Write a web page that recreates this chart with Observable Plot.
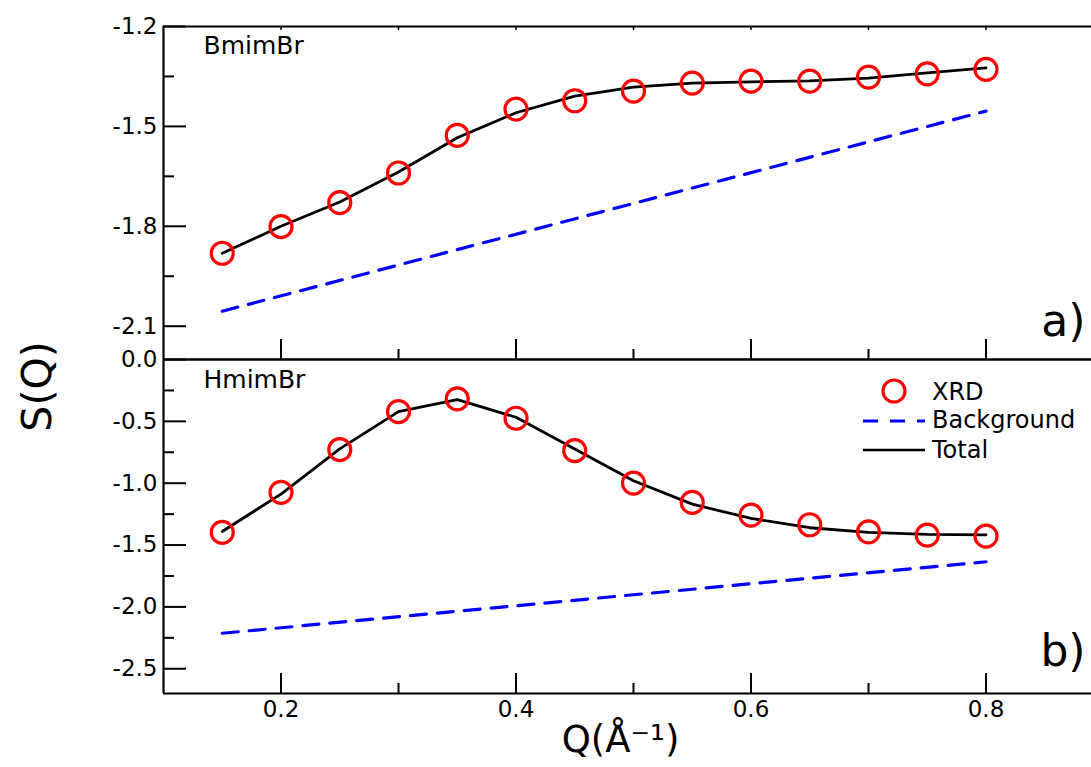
<!DOCTYPE html>
<html><head><meta charset="utf-8">
<script src="https://cdn.jsdelivr.net/npm/d3@7"></script>
<script src="https://cdn.jsdelivr.net/npm/@observablehq/plot@0.6"></script>
<style>
html,body{margin:0;padding:0;background:#fff;overflow:hidden;}
#wrap{position:relative;width:1091px;height:767px;overflow:hidden;background:#fff;}
#wrap svg{position:absolute;left:0;top:0;}
</style></head><body><div id="wrap"></div>
<script>
// ---- data ----
const Q = [0.15,0.2,0.25,0.3,0.35,0.4,0.45,0.5,0.55,0.6,0.65,0.7,0.75,0.8];
const bmimXRD = [-1.881,-1.801,-1.729,-1.640,-1.527,-1.448,-1.423,-1.394,-1.370,-1.364,-1.364,-1.352,-1.342,-1.329];
const bmimTotal = [-1.881,-1.800,-1.727,-1.637,-1.534,-1.459,-1.409,-1.382,-1.370,-1.366,-1.363,-1.355,-1.339,-1.324];
const bgQ = [0.15, 0.8];
const bmimBackground = [-2.055, -1.454];
const hmimXRD = [-1.398,-1.074,-0.729,-0.421,-0.318,-0.475,-0.737,-0.999,-1.155,-1.258,-1.336,-1.393,-1.420,-1.428];
const hmimTotal = [-1.390,-1.088,-0.723,-0.421,-0.324,-0.467,-0.723,-0.980,-1.169,-1.285,-1.360,-1.398,-1.414,-1.417];
const hmimBackground = [-2.213, -1.635];

const xDomain = [0.1, 0.9];
const topDomain = [-2.2, -1.2];
const botDomain = [-2.7, 0];
const xMajor = [0.2,0.4,0.6,0.8];
const xMajorLabels = ["0.2","0.4","0.6","0.8"];
const xMinor = [0.3,0.5,0.7];
const topMajor = [-1.2,-1.5,-1.8,-2.1];
const topMajorLabels = ["-1.2","-1.5","-1.8","-2.1"];
const topMinor = [-1.35,-1.65,-1.95];
const botMajor = [0,-0.5,-1,-1.5,-2,-2.5];
const botMajorLabels = ["0.0","-0.5","-1.0","-1.5","-2.0","-2.5"];
const botMinor = [-0.25,-0.75,-1.25,-1.75,-2.25];
const panelNames = ["BmimBr","HmimBr"];
const panelTags = ["a)","b)"];
const legendLabels = ["XRD","Background","Total"];
const yTitle = "S(Q)";
const xTitle = "Q(Å⁻¹)";

// ---- style ----
const FONT = "DejaVu Sans";
const RED = "#ff0000", BLUE = "#0000ff", BLACK = "#000000";
const DASH = "16,11";
const TICKFONT = 23;

const rows = (xs, ys) => xs.map((x, i) => ({x, y: ys[i]}));
const lab = (vals, labels) => { const m = new Map(vals.map((v, i) => [v, labels[i]])); return d => m.get(d) ?? ""; };
const blank = () => "";
const svgStyle = {background: "transparent", maxWidth: "none", overflow: "visible", fontFamily: FONT, fontSize: TICKFONT + "px", color: BLACK};

const topPlot = Plot.plot({
  width: 1103, height: 767, marginLeft: 163, marginRight: 0, marginTop: 26, marginBottom: 408,
  x: {domain: xDomain, label: null}, y: {domain: topDomain, label: null},
  style: svgStyle,
  marks: [
    Plot.axisY(topMajor, {anchor: "left", tickSize: 0, tickPadding: 6, tickFormat: lab(topMajor, topMajorLabels), fontSize: TICKFONT, label: null}),
    Plot.axisY(topMajor, {anchor: "left", tickSize: -23, tickFormat: blank, strokeWidth: 2, label: null}),
    Plot.axisY(topMinor, {anchor: "left", tickSize: -11, tickFormat: blank, strokeWidth: 2, label: null}),
    Plot.axisX(xMajor, {anchor: "bottom", tickSize: -20, tickFormat: blank, strokeWidth: 2, label: null}),
    Plot.axisX(xMinor, {anchor: "bottom", tickSize: -10, tickFormat: blank, strokeWidth: 2, label: null}),
    Plot.axisX(xMajor.concat(xMinor), {anchor: "top", tickSize: -3, tickFormat: blank, strokeWidth: 1.5, label: null}),
    Plot.ruleY([topDomain[1]], {stroke: BLACK, strokeWidth: 2.2}),
    Plot.ruleY([topDomain[0]], {stroke: BLACK, strokeWidth: 2.2}),
    Plot.ruleX([xDomain[0]], {stroke: BLACK, strokeWidth: 2.2}),
    Plot.line(rows(bgQ, bmimBackground), {x: "x", y: "y", stroke: BLUE, strokeWidth: 3.2, strokeDasharray: DASH}),
    Plot.line(rows(Q, bmimTotal), {x: "x", y: "y", stroke: BLACK, strokeWidth: 2.8}),
    Plot.dot(rows(Q, bmimXRD), {x: "x", y: "y", r: 11, stroke: RED, strokeWidth: 3.2, fill: "none"}),
    Plot.text([panelNames[0]], {text: d => d, frameAnchor: "top-left", dx: 40, dy: 27, textAnchor: "start", lineAnchor: "bottom", fontSize: 25}),
    Plot.text([panelTags[0]], {text: d => d, frameAnchor: "top-left", dx: 922, dy: 309, textAnchor: "end", lineAnchor: "bottom", fontSize: 44}),
    Plot.text([yTitle], {text: d => d, frameAnchor: "top-left", dx: -126, dy: 360, rotate: -90, textAnchor: "middle", lineAnchor: "middle", fontSize: 41})
  ]
});

const botPlot = Plot.plot({
  width: 1103, height: 767, marginLeft: 163, marginRight: 0, marginTop: 359, marginBottom: 74,
  x: {domain: xDomain, label: null}, y: {domain: botDomain, label: null},
  style: svgStyle,
  marks: [
    Plot.axisY(botMajor, {anchor: "left", tickSize: 0, tickPadding: 6, tickFormat: lab(botMajor, botMajorLabels), fontSize: TICKFONT, label: null}),
    Plot.axisY(botMajor, {anchor: "left", tickSize: -23, tickFormat: blank, strokeWidth: 2, label: null}),
    Plot.axisY(botMinor, {anchor: "left", tickSize: -11, tickFormat: blank, strokeWidth: 2, label: null}),
    Plot.axisX(xMajor, {anchor: "bottom", tickSize: 0, tickPadding: 7, tickFormat: lab(xMajor, xMajorLabels), fontSize: TICKFONT, label: null}),
    Plot.axisX(xMajor, {anchor: "bottom", tickSize: -20, tickFormat: blank, strokeWidth: 2, label: null}),
    Plot.axisX(xMinor, {anchor: "bottom", tickSize: -10, tickFormat: blank, strokeWidth: 2, label: null}),
    Plot.ruleY([botDomain[1]], {stroke: BLACK, strokeWidth: 2.2}),
    Plot.ruleY([botDomain[0]], {stroke: BLACK, strokeWidth: 2.2}),
    Plot.ruleX([xDomain[0]], {stroke: BLACK, strokeWidth: 2.2}),
    Plot.line(rows(bgQ, hmimBackground), {x: "x", y: "y", stroke: BLUE, strokeWidth: 3.2, strokeDasharray: DASH}),
    Plot.line(rows(Q, hmimTotal), {x: "x", y: "y", stroke: BLACK, strokeWidth: 2.8}),
    Plot.dot(rows(Q, hmimXRD), {x: "x", y: "y", r: 11, stroke: RED, strokeWidth: 3.2, fill: "none"}),
    Plot.text([panelNames[1]], {text: d => d, frameAnchor: "top-left", dx: 40, dy: 28, textAnchor: "start", lineAnchor: "bottom", fontSize: 25}),
    Plot.text([panelTags[1]], {text: d => d, frameAnchor: "top-left", dx: 922, dy: 306, textAnchor: "end", lineAnchor: "bottom", fontSize: 44}),
    Plot.text([xTitle], {text: d => d, frameAnchor: "bottom-left", dx: 457, dy: 58, textAnchor: "middle", lineAnchor: "bottom", fontSize: 37})
  ]
});

const wrap = document.getElementById("wrap");
wrap.appendChild(topPlot);
wrap.appendChild(botPlot);

// ---- legend overlay ----
const leg = d3.select(wrap).append("svg").attr("width", 1091).attr("height", 767)
  .style("font-family", FONT).style("pointer-events", "none");
leg.append("circle").attr("cx", 894).attr("cy", 391).attr("r", 11)
  .attr("fill", "none").attr("stroke", RED).attr("stroke-width", 3.2);
leg.append("line").attr("x1", 863).attr("x2", 925).attr("y1", 421).attr("y2", 421)
  .attr("stroke", BLUE).attr("stroke-width", 3).attr("stroke-dasharray", "15,12");
leg.append("line").attr("x1", 863).attr("x2", 925).attr("y1", 450).attr("y2", 450)
  .attr("stroke", BLACK).attr("stroke-width", 2.5);
leg.selectAll("text.l").data(legendLabels).join("text").attr("class", "l")
  .attr("x", 932).attr("y", (d, i) => [400, 428, 458][i])
  .attr("font-size", 24).attr("fill", BLACK).text(d => d);
</script>
</body></html>
